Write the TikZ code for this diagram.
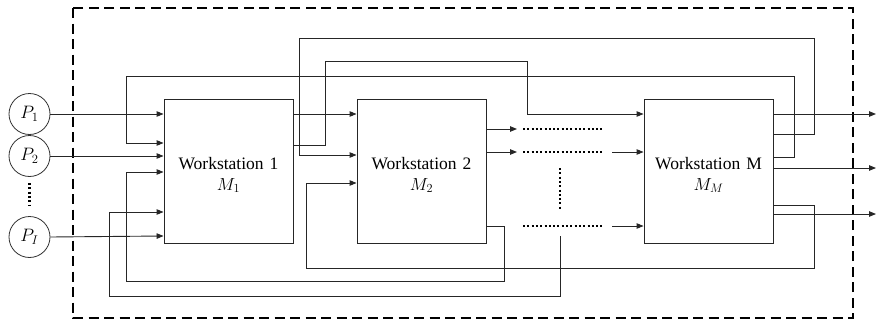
\RequirePackage{fix-cm}
\documentclass[tikz,border=0pt]{standalone}
\usepackage{fontspec}
\setmainfont{Liberation Serif}
\newfontfamily\wsfont{Liberation Serif}
\usetikzlibrary{arrows.meta}
\begin{document}
\begin{tikzpicture}[x=1pt,y=-1pt,
  ln/.style={line width=0.9pt,draw=black!85},
  arr/.style={ln,-{Triangle[length=7pt,width=5.5pt]}},
  dots/.style={line width=2.2pt,dash pattern=on 2pt off 2.3pt,draw=black},
  wsbox/.style={draw=black!85,line width=0.9pt,minimum width=129pt,minimum height=144pt,inner sep=0pt},
  wslabel/.style={align=center,inner sep=0pt,font=\wsfont\fontsize{17.5}{21}\selectfont},
  pcirc/.style={circle,draw=black!80,line width=0.8pt,minimum size=41pt,inner sep=0pt,font=\fontsize{18}{20}\selectfont},
  border/.style={line width=2.8pt,dash pattern=on 10pt off 5.5pt}]
\useasboundingbox (0,0) rectangle (876,324);
% border
\draw[border] (73,8) rectangle (853,318);
% nodes
\node[pcirc] (p1) at (29.5,114) {$P_1$};
\node[pcirc] (p2) at (29.5,156) {$P_2$};
\node[pcirc] (pI) at (29.5,237) {$P_I$};
\node[wsbox] (ws1) at (228.5,171) {};
\node[wsbox] (ws2) at (421.5,171) {};
\node[wsbox] (wsM) at (708.5,171) {};
\node[wslabel] (ws1t) at ([yshift=-4pt]ws1.center) {Workstation\hspace{6pt}1\\$M_1$};
\node[wslabel] (ws2t) at ([yshift=-4pt]ws2.center) {Workstation\hspace{6pt}2\\$M_2$};
\node[wslabel] (wsMt) at ([yshift=-4pt]wsM.center) {Workstation\hspace{6pt}M\\$M_M$};
% free ends
\coordinate (dotsrc) at (560,236);
\coordinate (d1s) at (523,129);
\coordinate (d1e) at (603,129);
\coordinate (d2s) at (523,152);
\coordinate (d2e) at (603,152);
\coordinate (d3s) at (523,226);
\coordinate (d3e) at (603,226);
\coordinate (a2s) at (612,152);
\coordinate (a3s) at (612,226);
\coordinate (o1) at (876,114);
\coordinate (o2) at (876,168);
\coordinate (o3) at (876,214);
\coordinate (vd1) at (560,168);
\coordinate (vd2) at (560,210);
\coordinate (pd1) at (29.5,183);
\coordinate (pd2) at (29.5,205);
% inputs to WS1
\draw[arr] (p1.east) -- (ws1.west |- p1.east);
\draw[arr] (p2.east) -- (ws1.west |- p2.east);
\draw[arr] (pI.east) -- (ws1.west |- 0,236);
% WS1 -> WS2
\draw[arr] (ws1.east |- 0,114) -- (ws2.west |- 0,114);
% WS1 -> WS M
\draw[arr] (ws1.east |- 0,145) -- (325,145) -- (325,61) -- (527,61) -- (527,114) -- (wsM.west |- 0,114);
% WS M -> WS2 (top)
\draw[arr] (wsM.east |- 0,134) -- (814,134) -- (814,38) -- (299,38) -- (299,155) -- (ws2.west |- 0,155);
% WS M -> WS1 (top)
\draw[arr] (wsM.east |- 0,157) -- (794,157) -- (794,76) -- (126,76) -- (126,143) -- (ws1.west |- 0,143);
% WS M -> WS2 (bottom)
\draw[arr] (wsM.east |- 0,205) -- (814,205) -- (814,268) -- (306,268) -- (306,183) -- (ws2.west |- 0,183);
% WS2 -> WS1 (bottom)
\draw[arr] (ws2.east |- 0,226) -- (504,226) -- (504,281) -- (126,281) -- (126,172) -- (ws1.west |- 0,172);
% dots -> WS1
\draw[arr] (dotsrc) -- (560,296) -- (109,296) -- (109,212) -- (ws1.west |- 0,212);
% WS2 outputs
\draw[arr] (ws2.east |- d1s) -- (517,129);
\draw[arr] (ws2.east |- d2s) -- (517,152);
\draw[dots] (d1s) -- (d1e);
\draw[dots] (d2s) -- (d2e);
\draw[dots] (d3s) -- (d3e);
\draw[dots] (vd1) -- (vd2);
\draw[dots] (pd1) -- (pd2);
\draw[arr] (a2s) -- (wsM.west |- a2s);
\draw[arr] (a3s) -- (wsM.west |- a3s);
% WS M outputs
\draw[arr] (wsM.east |- o1) -- (o1);
\draw[arr] (wsM.east |- o2) -- (o2);
\draw[arr] (wsM.east |- o3) -- (o3);
\end{tikzpicture}
\end{document}
